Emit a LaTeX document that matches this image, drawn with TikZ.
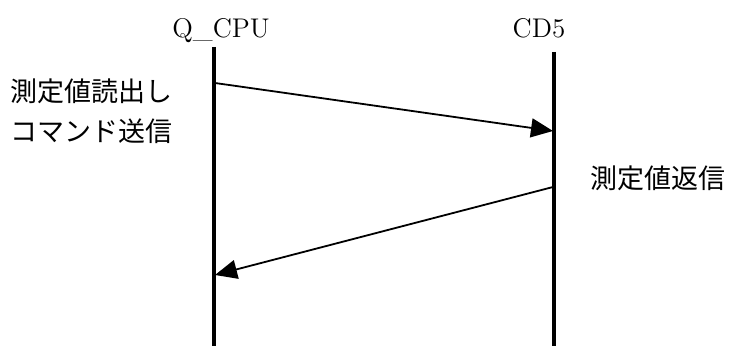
\documentclass[tikz,border=0pt]{standalone}
\usepackage{fontspec}
\newfontfamily\jpfont{Noto Sans CJK JP}
\usetikzlibrary{arrows.meta}

\tikzset{
    lifeline/.style={line width=1.7pt},
    message/.style={line width=0.9pt, -{Triangle[length=11pt,width=9.5pt]}},
    actor/.style={font=\fontsize{13.5}{16}\selectfont, anchor=base, inner sep=0pt},
    note/.style={font=\jpfont\fontsize{13.5}{20}\selectfont, align=left, inner sep=0pt},
}

\begin{document}
\begin{tikzpicture}[x=0.5pt, y=-0.5pt]

    % Frame
    \useasboundingbox (0, 0) rectangle (729, 346);

    % Actors
    \node[actor] (cpu) at (221, 38) {Q\_CPU};
    \node[actor] (cd) at (539, 38) {CD5};

    % Lifelines
    \coordinate (cpu top) at (214, 47);
    \coordinate (cpu bottom) at (214, 346);
    \coordinate (cd top) at (554, 52);
    \coordinate (cd bottom) at (554, 346);
    \draw[lifeline] (cpu top) -- (cpu bottom);
    \draw[lifeline] (cd top) -- (cd bottom);

    % Messages
    \coordinate (req start) at (215, 83);
    \coordinate (req end) at (553, 131);
    \coordinate (resp start) at (553, 187);
    \coordinate (resp end) at (215, 275);
    \draw[message] (req start) -- (req end);
    \draw[message] (resp start) -- (resp end);

    % Labels
    \node[note, anchor=west] (req label) at (10, 111) {測定値読出し\\コマンド送信};
    \node[note, anchor=west] (resp label) at (590, 178) {測定値返信};

\end{tikzpicture}
\end{document}
